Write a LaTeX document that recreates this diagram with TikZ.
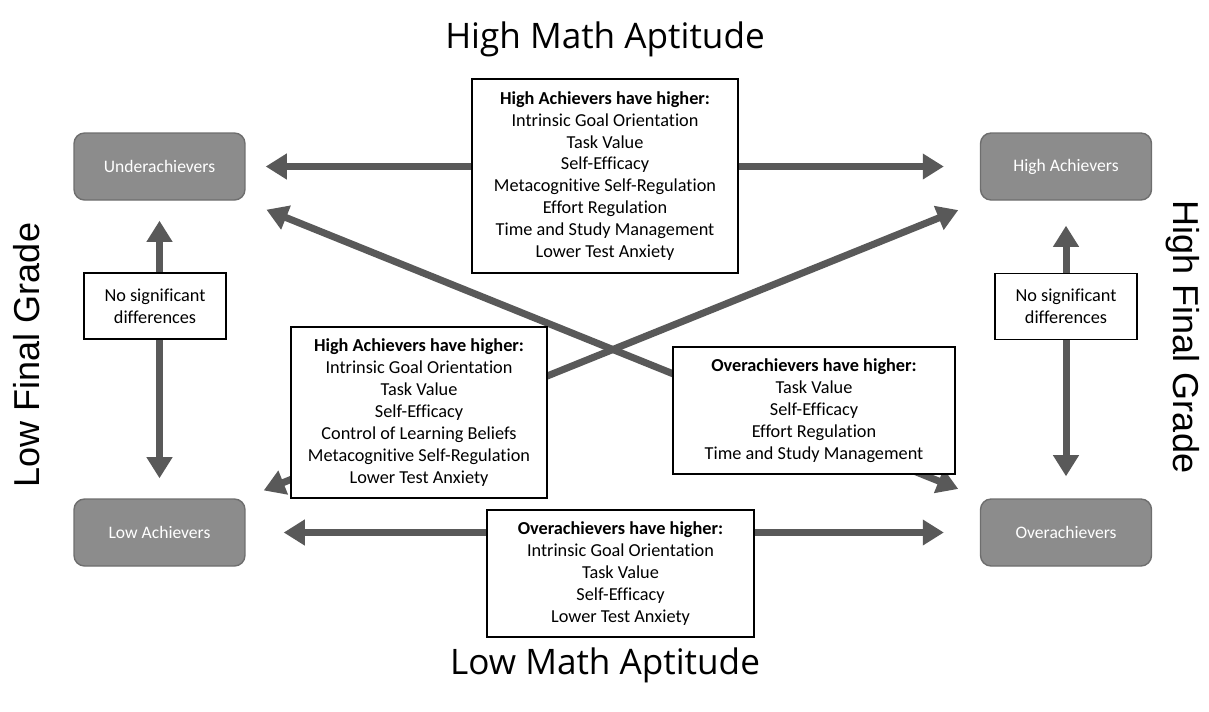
\documentclass[tikz,border=0pt]{standalone}
\usepackage{fontspec}
\setmainfont{Carlito}[Ligatures=NoCommon]
\newfontfamily\titlefont{Open Sans}
\newfontfamily\sidefont{Liberation Sans}
\usetikzlibrary{arrows.meta}

\definecolor{boxgray}{HTML}{8C8C8C}
\definecolor{boxedge}{HTML}{6E6E6E}
\definecolor{arrowgray}{HTML}{595959}

\tikzset{
	achiever/.style={draw=boxedge, fill=boxgray, line width=0.8pt, rounded corners=6pt,
		minimum width=3.42cm, minimum height=1.34cm, text=white, font=\fontsize{10}{12}\selectfont},
	finding/.style={draw=black, fill=white, line width=0.8pt, align=center,
		font=\fontsize{10.4}{12.5}\selectfont},
	bigarrow/.style={draw=arrowgray, line width=4pt,
		{Triangle[length=12pt,width=14pt]}-{Triangle[length=12pt,width=14pt]}},
	axistitle/.style={font=\titlefont\fontsize{20}{24}\selectfont},
	sidetitle/.style={font=\sidefont\fontsize{20.5}{24}\selectfont}
}

\begin{document}
\begin{tikzpicture}[x=0.02cm, y=-0.02cm]
	\useasboundingbox (0,0) rectangle (1209,711);

	% the four groups
	\node[achiever] (under) at (159.5,166.5) {Underachievers};
	\node[achiever] (high) at (1066,166.5) {High Achievers};
	\node[achiever] (low) at (159.5,532.5) {Low Achievers};
	\node[achiever] (over) at (1066,532.5) {Overachievers};

	% axis titles
	\node[axistitle] (highmath) at (605,39) {High Math Aptitude};
	\node[axistitle] (lowmath) at (605,665) {Low Math Aptitude};
	\node[sidetitle, rotate=90] (lowgrade) at (27,355) {Low Final Grade};
	\node[sidetitle, rotate=-90] (highgrade) at (1183,337) {High Final Grade};

	% comparisons
	\draw[bigarrow, shorten <=0.4cm, shorten >=0.72cm] (under) -- (high);
	\draw[bigarrow, shorten <=0.76cm, shorten >=0.72cm] (low) -- (over);
	\draw[bigarrow, shorten <=0.4cm, shorten >=0.4cm] (under) -- (low);
	\draw[bigarrow, shorten <=0.5cm, shorten >=0.44cm] (high) -- (over);
	\draw[bigarrow, shorten <=0.42cm, shorten >=0.5cm] (low) -- (high);
	\draw[bigarrow, shorten <=0.48cm, shorten >=0.5cm] (under) -- (over);

	% findings
	\node[finding, minimum width=5.32cm, minimum height=3.88cm] (topfind) at (605,176)
		{\textbf{High Achievers have higher:}\\ Intrinsic Goal Orientation\\ Task Value\\ Self-Efficacy\\
		Metacognitive Self-Regulation\\ Effort Regulation\\ Time and Study Management\\ Lower Test Anxiety};
	\node[finding, minimum width=5.12cm, minimum height=3.42cm] (diagfind) at (419,412.5)
		{\textbf{High Achievers have higher:}\\ Intrinsic Goal Orientation\\ Task Value\\ Self-Efficacy\\
		Control of Learning Beliefs\\ Metacognitive Self-Regulation\\ Lower Test Anxiety};
	\node[finding, minimum width=5.64cm, minimum height=2.54cm] (crossfind) at (814,410.5)
		{\textbf{Overachievers have higher:}\\ Task Value\\ Self-Efficacy\\ Effort Regulation\\ Time and Study Management};
	\node[finding, minimum width=5.34cm, minimum height=2.54cm] (botfind) at (620.5,573.5)
		{\textbf{Overachievers have higher:}\\ Intrinsic Goal Orientation\\ Task Value\\ Self-Efficacy\\ Lower Test Anxiety};
	\node[finding, minimum width=2.84cm, minimum height=1.32cm] (leftsame) at (155,306)
		{No significant\\ differences};
	\node[finding, minimum width=2.84cm, minimum height=1.32cm] (rightsame) at (1066,306.5)
		{No significant\\ differences};
\end{tikzpicture}
\end{document}
